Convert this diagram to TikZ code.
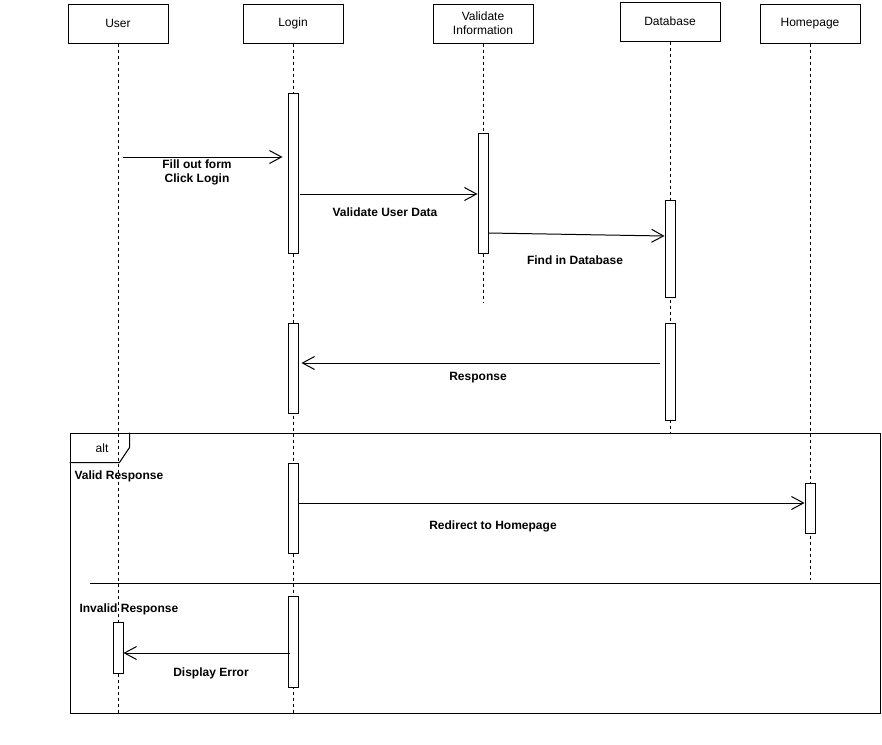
\documentclass[tikz,border=0pt]{standalone}
\usepackage{fontspec}
\setmainfont{Liberation Sans}
\usetikzlibrary{arrows.meta}
\begin{document}
\begin{tikzpicture}[
        x=1pt, y=-1pt, line width=1pt,
        head/.style={rectangle, draw, minimum width=100pt, minimum height=39pt, inner sep=0pt, align=center, font=\fontsize{12}{14}\selectfont},
        bar/.style={rectangle, draw, fill=white, minimum width=10pt, inner sep=0pt},
        life/.style={dash pattern=on 3pt off 3pt, line width=0.8pt},
        msg/.style={-{Straight Barb[length=12pt, width=13pt]}},
        lbl/.style={font=\bfseries\fontsize{12}{14}\selectfont, align=center, inner sep=0pt}
    ]
        \useasboundingbox (0, 0) rectangle (882, 744);
        \node[head] (user) at (118, 23.5) {User};
        \node[head] (login) at (293, 23.5) {Login};
        \node[head] (validate) at (483, 23.5) {Validate\\Information};
        \node[head] (database) at (670, 21.5) {Database};
        \node[head] (homepage) at (810, 23.5) {Homepage};
        \coordinate (userEnd) at (118, 713);
        \coordinate (loginEnd) at (293, 713);
        \coordinate (validateEnd) at (483, 303);
        \coordinate (databaseEnd) at (670, 433);
        \coordinate (homepageEnd) at (810, 580);
        \draw[life] (user) -- (userEnd);
        \draw[life] (login) -- (loginEnd);
        \draw[life] (validate) -- (validateEnd);
        \draw[life] (database) -- (databaseEnd);
        \draw[life] (homepage) -- (homepageEnd);
        \node[rectangle, draw, minimum width=810pt, minimum height=280pt, inner sep=0pt] (altframe) at (475, 573) {};
        \draw ([yshift=-30pt]altframe.north west) -- ++(50, 0) -- ++(10, -15) -- ++(0, -15);
        \node[font=\fontsize{12}{14}\selectfont] (alt) at (102, 448) {alt};
        \coordinate (elseL) at (90, 583);
        \draw (elseL) -- (elseL -| altframe.east);
        \node[bar, minimum height=160pt] (loginA) at (293, 173) {};
        \node[bar, minimum height=120pt] (validateA) at (483, 193) {};
        \node[bar, minimum height=97pt] (databaseA) at (670, 249) {};
        \node[bar, minimum height=90pt] (loginB) at (293, 368) {};
        \node[bar, minimum height=97pt] (databaseB) at (670, 371.5) {};
        \node[bar, minimum height=90pt] (loginC) at (293, 508) {};
        \node[bar, minimum height=50pt] (homepageA) at (810, 508) {};
        \node[bar, minimum height=91pt] (loginD) at (293, 641.5) {};
        \node[bar, minimum height=51pt] (userA) at (118, 647.5) {};
        \coordinate (fill) at (123, 157);
        \draw[msg] (fill) -- ([xshift=-5pt]fill -| loginA.west);
        \node[lbl] (fillL) at (197, 172) {Fill out form\\Click Login};
        \coordinate (check) at (300, 194);
        \draw[msg] (check) -- (check -| validateA.west);
        \node[lbl] (checkL) at (385, 212) {Validate User Data};
        \coordinate (find) at (488, 233);
        \draw[msg] (find) -- ([yshift=-3pt]find -| databaseA.west);
        \node[lbl] (findL) at (575, 260) {Find in Database};
        \coordinate (resp) at (660, 363);
        \draw[msg] (resp) -- ([xshift=3pt]resp -| loginB.east);
        \node[lbl] (respL) at (478, 378) {Response};
        \node[lbl, anchor=west] (valid) at (74, 476) {Valid Response};
        \coordinate (redir) at (298, 503);
        \draw[msg] (redir) -- (redir -| homepageA.west);
        \node[lbl] (redirL) at (493, 526) {Redirect to Homepage};
        \node[lbl, anchor=west] (invalid) at (79, 609) {Invalid Response};
        \coordinate (err) at (290, 653);
        \draw[msg] (err) -- (err -| userA.east);
        \node[lbl] (errL) at (211, 673) {Display Error};
    \end{tikzpicture}
\end{document}
